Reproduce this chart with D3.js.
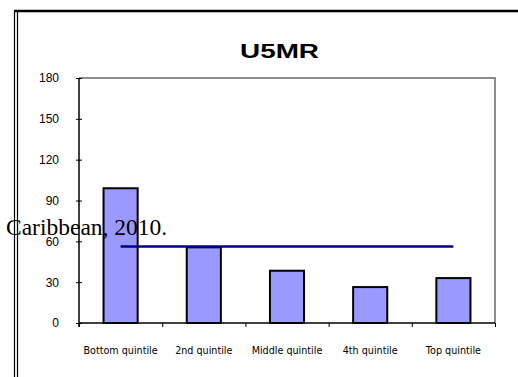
<!DOCTYPE html>
<html>
<head>
<meta charset="utf-8">
<script src="https://cdn.jsdelivr.net/npm/d3@7"></script>
<style>
  body { margin: 0; background: #fff; }
  svg { display: block; }
</style>
</head>
<body>
<div id="chart"></div>
<script>
const categories = ['Bottom quintile', '2nd quintile', 'Middle quintile', '4th quintile', 'Top quintile'];
const u5mr = [99, 55.6, 38.4, 26.4, 33];
const average = [56.2, 56.2, 56.2, 56.2, 56.2];
const yTicks = [0, 30, 60, 90, 120, 150, 180];

const width = 518, height = 377;
const plot = { left: 79, right: 495, top: 78, bottom: 323 };

const svg = d3.select('#chart')
  .append('svg')
  .attr('width', width)
  .attr('height', height);

svg.append('rect').attr('width', width).attr('height', height).attr('fill', '#fff');

// outer frame (top + double left line)
svg.append('line')
  .attr('x1', 14).attr('x2', width).attr('y1', 11).attr('y2', 11)
  .attr('stroke', '#000').attr('stroke-width', 2.5);
[14.5, 17.5].forEach(x => {
  svg.append('line')
    .attr('x1', x).attr('x2', x).attr('y1', 10).attr('y2', height)
    .attr('stroke', '#000').attr('stroke-width', 1.2);
});

const x = d3.scaleBand()
  .domain(categories)
  .range([plot.left, plot.right])
  .paddingInner(0.59)
  .paddingOuter(0.295);

const xEdges = d3.scaleLinear().domain([0, categories.length]).range([plot.left, plot.right]);

const y = d3.scaleLinear()
  .domain([0, 180])
  .range([plot.bottom, plot.top]);

// plot area border (grey top + right)
svg.append('path')
  .attr('d', `M${plot.left},${plot.top}H${plot.right}V${plot.bottom}`)
  .attr('fill', 'none')
  .attr('stroke', '#8c8c8c')
  .attr('stroke-width', 2);

// title
svg.append('text')
  .attr('x', 240).attr('y', 58)
  .attr('textLength', 79)
  .attr('lengthAdjust', 'spacingAndGlyphs')
  .style('font-family', 'Liberation Sans, Arial, sans-serif')
  .style('font-weight', 'bold')
  .style('font-size', '21px')
  .text('U5MR');

// bars
svg.append('g')
  .selectAll('rect')
  .data(u5mr)
  .join('rect')
  .attr('x', (d, i) => x(categories[i]))
  .attr('y', d => y(d))
  .attr('width', x.bandwidth())
  .attr('height', d => y(0) - y(d))
  .attr('fill', '#9999ff')
  .attr('stroke', '#000')
  .attr('stroke-width', 2);

// y axis
const yAxis = svg.append('g')
  .attr('transform', `translate(${plot.left},0)`)
  .call(d3.axisLeft(y).tickValues(yTicks).tickSize(3).tickPadding(17));
yAxis.select('.domain').attr('stroke', '#000').attr('stroke-width', 1.5)
  .attr('d', `M0,${plot.top}V${plot.bottom + 4}`);
yAxis.selectAll('.tick line').attr('x1', 3).attr('stroke', '#000');
yAxis.selectAll('text')
  .style('font-family', 'Liberation Sans, Arial, sans-serif')
  .style('font-size', '12px')
  .attr('fill', '#000');

// x axis: boundary ticks
const xAxis = svg.append('g')
  .attr('transform', `translate(0,${plot.bottom})`)
  .call(d3.axisBottom(xEdges).ticks(categories.length).tickSize(4).tickFormat(''));
xAxis.select('.domain').attr('stroke', '#000').attr('stroke-width', 1.5)
  .attr('d', `M${plot.left},0H${plot.right}`);
xAxis.selectAll('.tick line').attr('stroke', '#000');

// x axis: category labels
const xLabels = svg.append('g')
  .attr('transform', `translate(0,${plot.bottom})`)
  .call(d3.axisBottom(x).tickSize(0).tickPadding(24));
xLabels.select('.domain').remove();
xLabels.selectAll('text')
  .style('font-family', 'DejaVu Sans, sans-serif')
  .style('font-size', '9.6px')
  .attr('fill', '#000');

// average line
const line = d3.line()
  .x((d, i) => x(categories[i]) + x.bandwidth() / 2)
  .y(d => y(d));
svg.append('path')
  .datum(average)
  .attr('d', line)
  .attr('fill', 'none')
  .attr('stroke', '#000080')
  .attr('stroke-width', 2.5);

// stray caption text over the chart
svg.append('text')
  .attr('x', 6).attr('y', 235)
  .style('font-family', 'Liberation Serif, Times New Roman, serif')
  .style('font-size', '23.5px')
  .attr('fill', '#000')
  .text('Caribbean, 2010.');
</script>
</body>
</html>
